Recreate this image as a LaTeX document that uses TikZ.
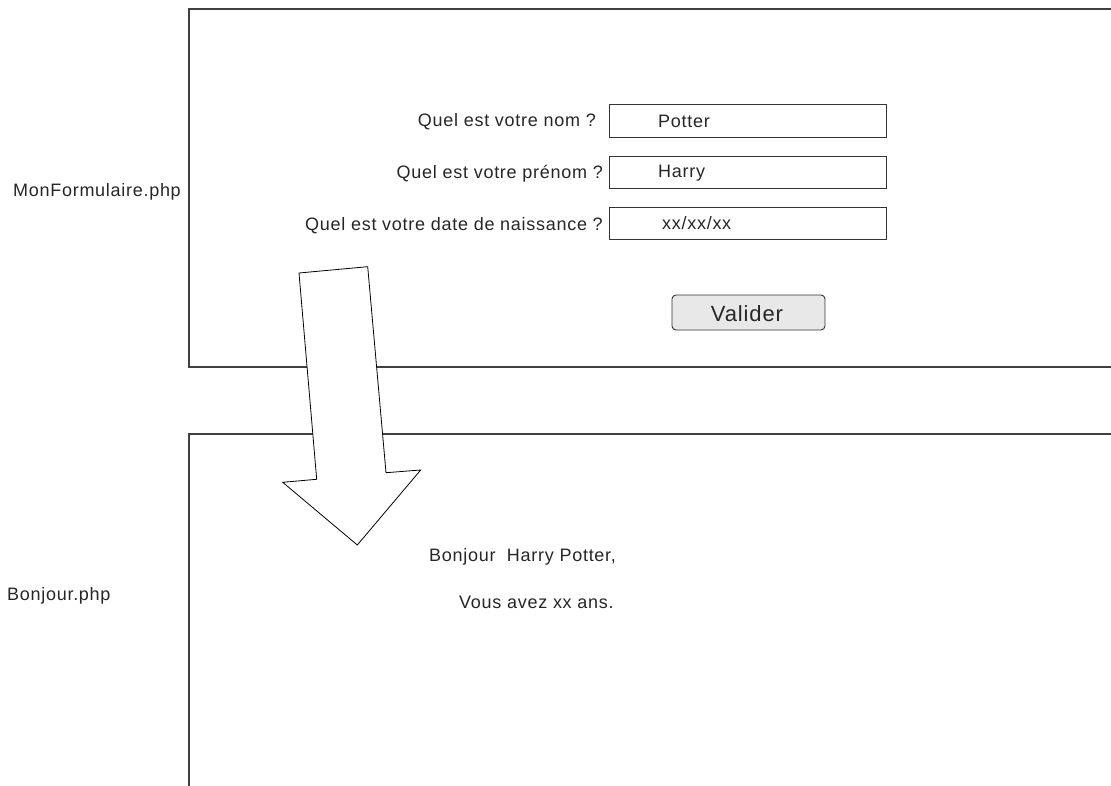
\documentclass[tikz,border=0pt]{standalone}
\usepackage{fontspec}
\setmainfont{Liberation Sans}[LetterSpace=4]
\begin{document}
\begin{tikzpicture}[x=1pt,y=-1pt,
  frame/.style={draw=black!75,line width=1.1pt},
  field/.style={draw=black!80,line width=0.9pt,fill=white},
  lbl/.style={font=\fontsize{18}{20}\selectfont,inner sep=0pt,text=black!85},
  btn/.style={draw=black!80,line width=0.9pt,fill=black!9,rounded corners=4pt}]
\useasboundingbox (0,0) rectangle (1111,786);
\begin{scope}
\clip (0,0) rectangle (1111,786);
\draw[frame] (1120,9) -- (189,9) -- (189,367) -- (1120,367);
\draw[frame] (1120,434) -- (189,434) -- (189,800);
\end{scope}
% fields
\draw[field] (609,104) rectangle (886,137);
\draw[field] (609,156) rectangle (886,188);
\draw[field] (609,207) rectangle (886,239);
\node[lbl,anchor=base west] (v1) at (658,128) {Potter};
\node[lbl,anchor=base west] (v2) at (658,178) {Harry};
\node[lbl,anchor=base west] (v3) at (662,230) {xx/xx/xx};
\node[lbl,anchor=base east] (q1) at (596,127) {Quel est votre nom ?};
\node[lbl,anchor=base east] (q2) at (603,179) {Quel est votre prénom ?};
\node[lbl,anchor=base east] (q3) at (603,231) {Quel est votre date de naissance ?};
\draw[btn] (672,295) rectangle (825,330);
\node[font=\fontsize{22}{24}\selectfont,inner sep=0pt,text=black!85] (val) at (747,314) {Valider};
\node[lbl,anchor=base west] (f1) at (13,197) {MonFormulaire.php};
\node[lbl,anchor=base west] (f2) at (7,600) {Bonjour.php};
\node[lbl,anchor=base west] (t1) at (429,561) {Bonjour\ \ Harry Potter,};
\node[lbl,anchor=base west] (t2) at (459,608) {Vous avez xx ans.};
% arrow
\draw[line width=0.8pt,fill=white,line join=miter]
  (299,273) -- (367.7,266.7) -- (386,472.7) -- (420.7,470) -- (357.3,545)
  -- (282.7,482.3) -- (316.7,479.3) -- cycle;
\end{tikzpicture}
\end{document}
